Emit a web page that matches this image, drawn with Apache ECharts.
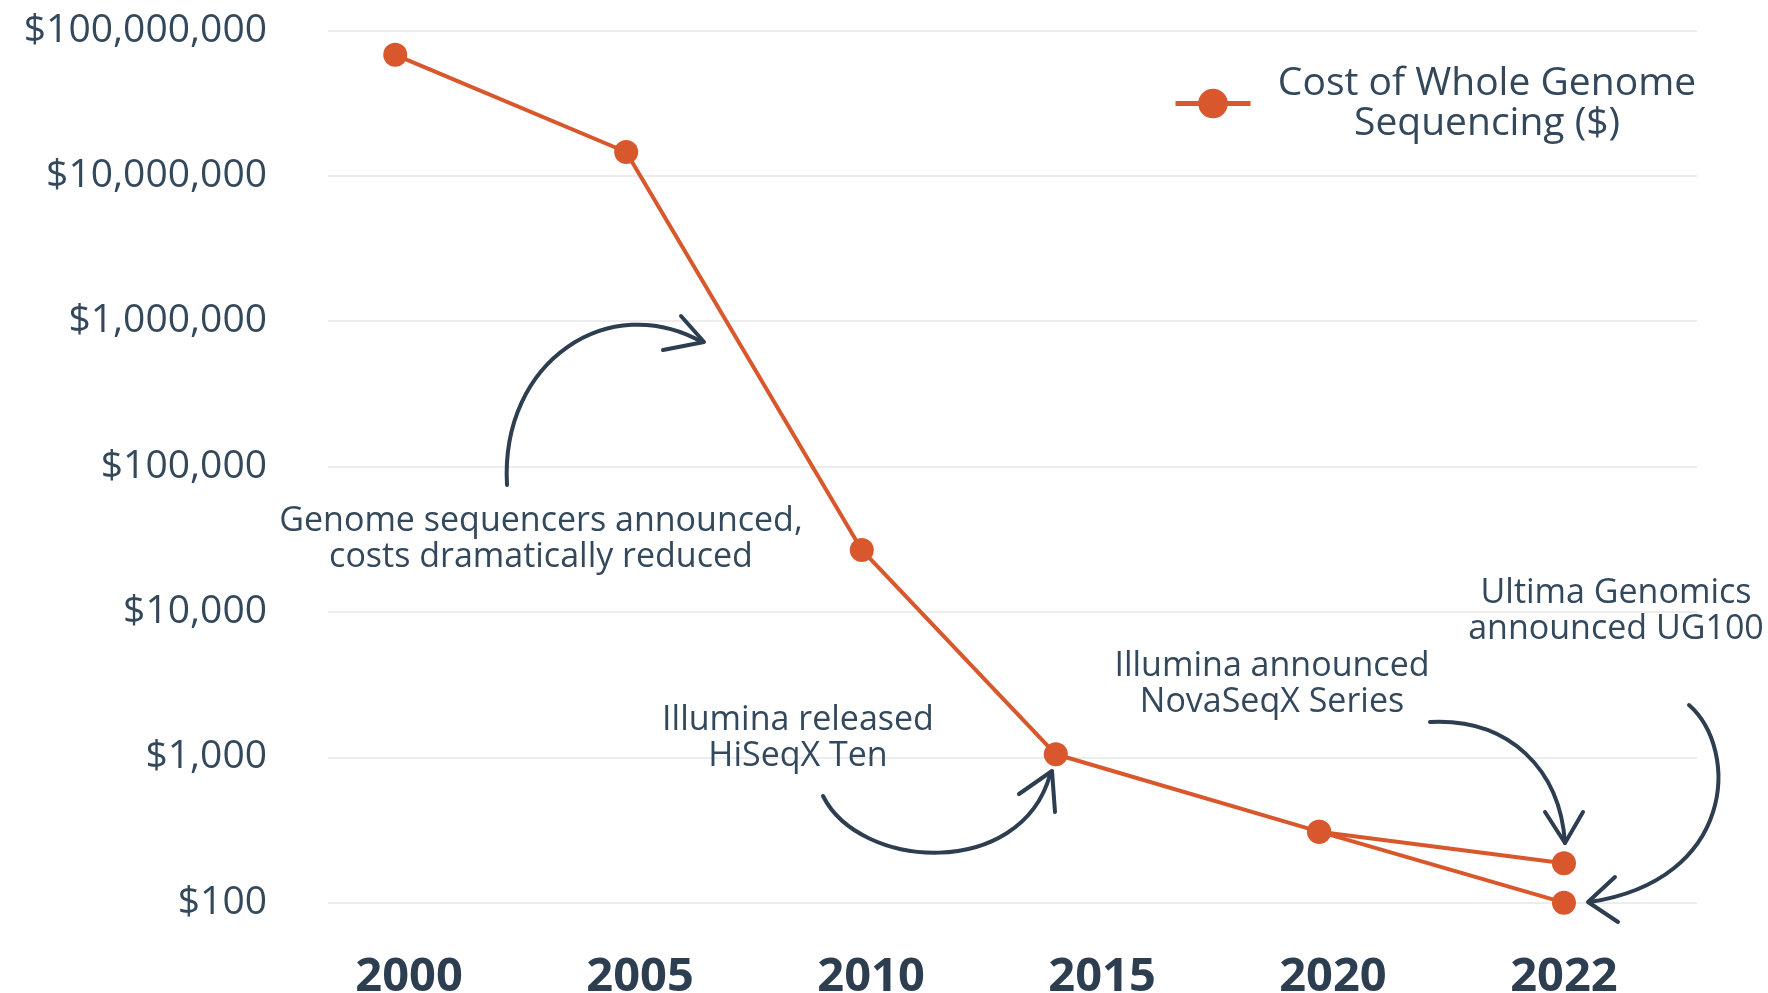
<!DOCTYPE html>
<html>
<head>
<meta charset="utf-8">
<script src="https://cdn.jsdelivr.net/npm/echarts@6/dist/echarts.min.js"></script>
<style>
  html, body { margin: 0; padding: 0; background: #ffffff; }
  #chart { width: 1768px; height: 993px; }
</style>
</head>
<body>
<div id="chart"></div>
<script>
// ---- data ----
const yearLabels = ['2000', '2005', '2010', '2015', '2020', '2022'];      // x tick labels (index 0..5)
const pointPos   = [-0.06, 0.94, 1.96, 2.80, 3.94, 5.00];                 // where each point sits along the year axis
const costMain   = [68000000, 14600000, 26700, 1050, 308, 187];           // Illumina path ($)
const ultimaPos  = [3.94, 5.00];
const ultimaCost = [308, 100];                                            // 2020 -> Ultima UG100 ($)
const seriesName = 'Cost of Whole Genome Sequencing ($)';

const ORANGE = '#d9572c';
const NAVY = '#2c3e50';
const TEXT = '#34485c';
const FONT = 'Open Sans';

const mainData = pointPos.map((p, i) => [p, costMain[i]]);
const ultimaData = ultimaPos.map((p, i) => [p, ultimaCost[i]]);

const chart = echarts.init(document.getElementById('chart'));

function annotation(x, y, text) {
  return {
    type: 'text', z: 10,
    style: {
      x: x, y: y, text: text, align: 'center', verticalAlign: 'middle',
      fontFamily: FONT, fontSize: 34, lineHeight: 36, fill: TEXT
    }
  };
}
function curve(x1, y1, cpx1, cpy1, cpx2, cpy2, x2, y2) {
  return {
    type: 'bezierCurve', z: 10,
    shape: { x1, y1, cpx1, cpy1, cpx2, cpy2, x2, y2 },
    style: { stroke: NAVY, lineWidth: 4, fill: null, lineCap: 'round' }
  };
}
function head(points) {
  return {
    type: 'polyline', z: 10,
    shape: { points: points },
    style: { stroke: NAVY, lineWidth: 4, fill: null, lineCap: 'round', lineJoin: 'round' }
  };
}

chart.setOption({
  backgroundColor: '#ffffff',
  animation: false,
  grid: { left: 328, right: 71, top: 30.5, bottom: 90.3, containLabel: false, outerBoundsMode: 'none' },
  legend: {
    data: [seriesName],
    left: 1173, top: 64,
    padding: 0,
    itemWidth: 75, itemHeight: 37,
    lineStyle: { width: 5 },
    formatter: () => '{a|Cost of Whole Genome}\n{a|Sequencing ($)}',
    textStyle: {
      rich: {
        a: { fontFamily: FONT, fontSize: 39, lineHeight: 40, color: TEXT, width: 463, align: 'center' }
      }
    }
  },
  xAxis: {
    type: 'value',
    min: -0.351, max: 5.576,
    splitLine: { show: false },
    axisLine: { show: false },
    axisTick: { show: false },
    axisLabel: {
      customValues: [0, 1, 2, 3, 4, 5],
      formatter: v => yearLabels[Math.round(v)],
      fontFamily: FONT, fontWeight: 'bold', fontSize: 47, color: NAVY, margin: 51
    }
  },
  yAxis: {
    type: 'log', logBase: 10,
    min: 100, max: 100000000,
    axisLine: { show: false },
    axisTick: { show: false },
    splitLine: { show: true, lineStyle: { color: '#ececec', width: 2 } },
    axisLabel: {
      formatter: v => '$' + Math.round(v).toLocaleString('en-US'),
      fontFamily: FONT, fontSize: 39, color: TEXT, margin: 61
    }
  },
  series: [
    {
      name: seriesName, type: 'line', data: mainData,
      symbol: 'circle', symbolSize: 24,
      itemStyle: { color: ORANGE },
      lineStyle: { color: ORANGE, width: 4 }, z: 3
    },
    {
      name: seriesName, type: 'line', data: ultimaData,
      symbol: 'circle', symbolSize: 24,
      itemStyle: { color: ORANGE },
      lineStyle: { color: ORANGE, width: 4 }, z: 2
    }
  ],
  graphic: [
    annotation(541, 539, 'Genome sequencers announced,\ncosts dramatically reduced'),
    annotation(798, 738, 'Illumina released\nHiSeqX Ten'),
    annotation(1272, 684, 'Illumina announced\nNovaSeqX Series'),
    annotation(1616, 611, 'Ultima Genomics\nannounced UG100'),
    curve(507, 485, 500, 360, 610, 290, 702, 342),
    head([[681, 316], [704, 342], [663, 350]]),
    curve(823, 796, 860, 870, 1020, 880, 1050, 775),
    head([[1019, 794], [1052, 771], [1055, 812]]),
    curve(1430, 722, 1510, 718, 1560, 770, 1565, 843),
    head([[1545, 812], [1565, 843], [1583, 812]]),
    curve(1689, 705, 1740, 750, 1735, 880, 1590, 902),
    head([[1615, 877], [1588, 902], [1618, 922]])
  ]
});
</script>
</body>
</html>
